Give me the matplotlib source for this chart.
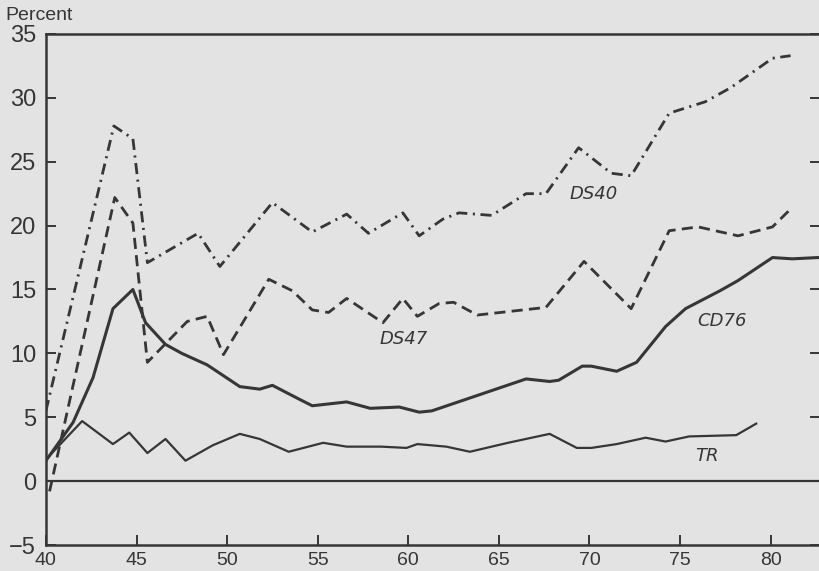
import matplotlib
matplotlib.use("Agg")
import matplotlib.pyplot as plt

# values (percent)
DS40_X = [40.0, 43.75, 44.8, 45.6, 48.4, 49.6, 52.5, 54.7, 56.6, 57.8, 59.7, 60.6,
          61.9, 62.8, 64.6, 66.5, 67.6, 69.4, 71.2, 72.3, 74.4, 76.4, 77.8, 80.1, 81.1]
DS40_Y = [5.5, 27.8, 26.8, 17.1, 19.4, 16.8, 21.8, 19.5, 20.9, 19.4, 21.0, 19.2,
          20.5, 21.0, 20.8, 22.5, 22.5, 26.1, 24.1, 23.9, 28.8, 29.7, 30.8, 33.1, 33.3]

DS47_X = [40.2, 43.8, 44.8, 45.6, 47.8, 48.9, 49.8, 52.3, 53.6, 54.7, 55.6, 56.6,
          58.6, 59.7, 60.5, 61.7, 62.5, 63.8, 67.6, 69.7, 72.3, 74.4, 76.0, 78.2,
          80.1, 81.1]
DS47_Y = [-0.8, 22.2, 20.2, 9.3, 12.5, 12.9, 9.9, 15.8, 14.9, 13.4, 13.2, 14.3,
          12.4, 14.3, 12.9, 13.9, 14.0, 13.0, 13.6, 17.2, 13.5, 19.6, 19.9, 19.2,
          19.9, 21.3]

CD76_X = [40.0, 41.5, 42.6, 43.7, 44.8, 45.5, 46.6, 47.5, 48.9, 50.7, 51.8, 52.5,
          54.0, 54.7, 56.6, 57.9, 59.5, 60.6, 61.3, 66.5, 67.8, 68.3, 69.6, 70.1,
          71.5, 72.6, 74.2, 75.3, 77.2, 78.2, 80.1, 81.2, 82.6]
CD76_Y = [1.6, 4.6, 8.1, 13.5, 15.0, 12.4, 10.7, 10.0, 9.1, 7.4, 7.2, 7.5,
          6.4, 5.9, 6.2, 5.7, 5.8, 5.4, 5.5, 8.0, 7.8, 7.9, 9.0, 9.0,
          8.6, 9.3, 12.1, 13.5, 14.9, 15.7, 17.5, 17.4, 17.5]

TR_X = [40.0, 42.0, 43.7, 44.6, 45.6, 46.6, 47.7, 49.2, 50.7, 51.8, 53.4, 55.3,
        56.6, 58.5, 59.9, 60.5, 62.1, 63.4, 65.5, 67.8, 69.3, 70.1, 71.5, 73.1,
        74.2, 75.5, 78.1, 79.2]
TR_Y = [1.7, 4.7, 2.9, 3.8, 2.2, 3.3, 1.6, 2.8, 3.7, 3.3, 2.3, 3.0,
        2.7, 2.7, 2.6, 2.9, 2.7, 2.3, 3.0, 3.7, 2.6, 2.6, 2.9, 3.4,
        3.1, 3.5, 3.6, 4.5]

X_TICKS = [40, 45, 50, 55, 60, 65, 70, 75, 80]
Y_TICKS = [-5, 0, 5, 10, 15, 20, 25, 30, 35]

INK = "#363636"
PAPER = "#e3e3e3"

plt.rcParams["font.family"] = ["Liberation Sans Narrow", "Liberation Sans", "DejaVu Sans"]
plt.rcParams["lines.scale_dashes"] = False

fig = plt.figure(figsize=(8.2, 5.71), dpi=100, facecolor=PAPER)
ax = fig.add_axes([0.056, 0.0455, 0.9435, 0.895])
ax.set_facecolor(PAPER)

ax.plot(DS40_X, DS40_Y, color=INK, lw=2.0, dashes=(8, 4, 1.5, 4))
ax.plot(DS47_X, DS47_Y, color=INK, lw=2.0, dashes=(8, 4.5))
ax.plot(CD76_X, CD76_Y, color=INK, lw=2.2)
ax.plot(TR_X, TR_Y, color=INK, lw=1.6)
ax.axhline(0, color=INK, lw=1.6)

lab = dict(color=INK, fontsize=13, style="italic", ha="center", va="center",
           family=["DejaVu Sans"])
ax.text(70.25, 22.5, "DS40", **lab)
ax.text(59.75, 11.1, "DS47", **lab)
ax.text(77.3, 12.5, "CD76", **lab)
ax.text(76.5, 1.95, "TR", **lab)

ax.set_xlim(40, 82.7)
ax.set_ylim(-5, 35)
ax.set_xticks(X_TICKS)
ax.set_yticks(Y_TICKS)
ax.tick_params(direction="in", length=7, width=1.4, color=INK, labelcolor=INK,
               right=True)
ax.tick_params(axis="y", pad=7, labelsize=17)
ax.tick_params(axis="x", pad=5, labelsize=14)
for s in ax.spines.values():
    s.set_color(INK)
    s.set_linewidth(1.8)

fig.text(0.006, 0.972, "Percent", color=INK, fontsize=14, ha="left", va="center")

fig.savefig("out.png", dpi=100, facecolor=PAPER)
